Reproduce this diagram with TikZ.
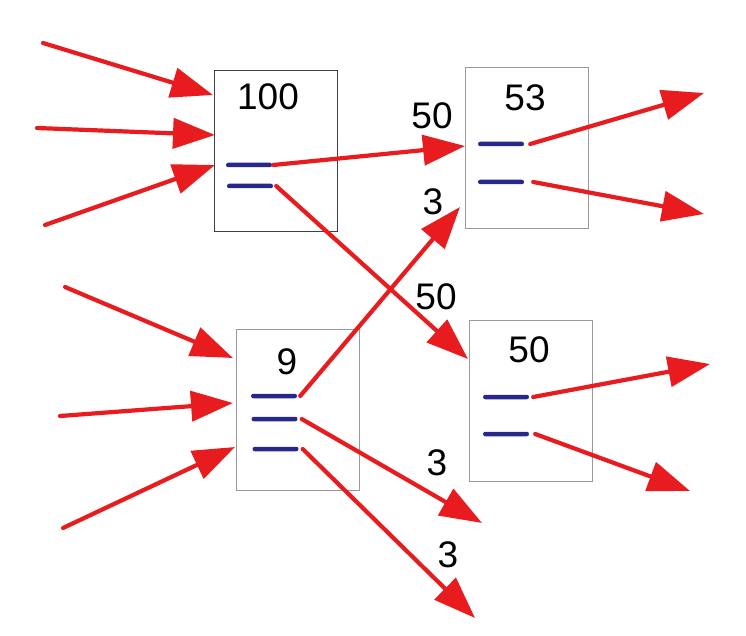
\documentclass[tikz,border=0pt]{standalone}
\usepackage{fontspec}
\setmainfont{Liberation Sans}
\usetikzlibrary{arrows.meta}
\definecolor{flowred}{RGB}{232,28,30}
\definecolor{barblue}{RGB}{40,40,140}

\begin{document}
\begin{tikzpicture}[x=1pt,y=-1pt,
    box/.style={draw=gray!80, line width=0.9pt, minimum width=123pt, minimum height=161pt, inner sep=0pt},
    bar/.style={fill=barblue, minimum width=46pt, minimum height=4.5pt, inner sep=0pt, rounded corners=2.2pt},
    flow/.style={draw=flowred, line width=4.2pt, line cap=round, -{Triangle[length=42pt,width=30pt]}},
    num/.style={font=\fontsize{37}{40}\selectfont, inner sep=0pt}]
            \useasboundingbox (0,0) rectangle (746,636);

            % Boxes
            \node[box, draw=black!75] (A) at (275.5,150.5) {};
            \node[box] (B) at (526.5,147.5) {};
            \node[box] (C) at (297.5,410) {};
            \node[box] (D) at (531,400.5) {};

            % Box values
            \node[num] (vA) at (268,97) {100};
            \node[num] (vB) at (525,98) {53};
            \node[num] (vC) at (287,362) {9};
            \node[num] (vD) at (529,350) {50};

            % Bars
            \foreach \n/\x/\y in {A1/249/165, A2/250/186, B1/501/144, B2/501/182,
                                  C1/274/396, C2/274.5/419, C3/275.5/449, D1/506/397, D2/506/434} {
                \node[bar] (\n) at (\x,\y) {};
            }

            % Free ends
            \foreach \n/\x/\y in {iA1/43/43, iA2/37/128, iA3/45/225,
                                  iC1/65/287, iC2/60/416, iC3/63/528,
                                  tA1/213/95, tA2/215/135, tA3/215/165,
                                  tC1/233/358, tC2/233/403, tC3/235/447,
                                  tB1/465/146, tB2/460/207, tD1/468/359,
                                  oB1/704/93, oB2/704/214, oD1/710/364, oD2/690/491,
                                  oC2/482/523, oC3/475/618} {
                \coordinate (\n) at (\x,\y);
            }

            % Inflows
            \foreach \i in {1,2,3} {
                \draw[flow] (iA\i) -- (tA\i);
                \draw[flow] (iC\i) -- (tC\i);
            }

            % Transfers
            \draw[flow] ([xshift=1pt]A1.east) -- (tB1);
            \draw[flow] ([xshift=3pt]A2.east) -- (tD1);
            \draw[flow] ([xshift=3pt]C1.east) -- (tB2);
            \draw[flow] ([xshift=4pt]C2.east) -- (oC2);
            \draw[flow] ([xshift=4pt]C3.east) -- (oC3);

            % Outflows
            \draw[flow] ([xshift=6pt]B1.east) -- (oB1);
            \draw[flow] ([xshift=9pt]B2.east) -- (oB2);
            \draw[flow] ([xshift=4pt]D1.east) -- (oD1);
            \draw[flow] ([xshift=6pt]D2.east) -- (oD2);

            % Labels
            \node[num] (lAB) at (432,116) {50};
            \node[num] (lAD) at (436,297) {50};
            \node[num] (lCB) at (433,202) {3};
            \node[num] (lC2) at (437,463) {3};
            \node[num] (lC3) at (448,555) {3};
        \end{tikzpicture}
\end{document}
